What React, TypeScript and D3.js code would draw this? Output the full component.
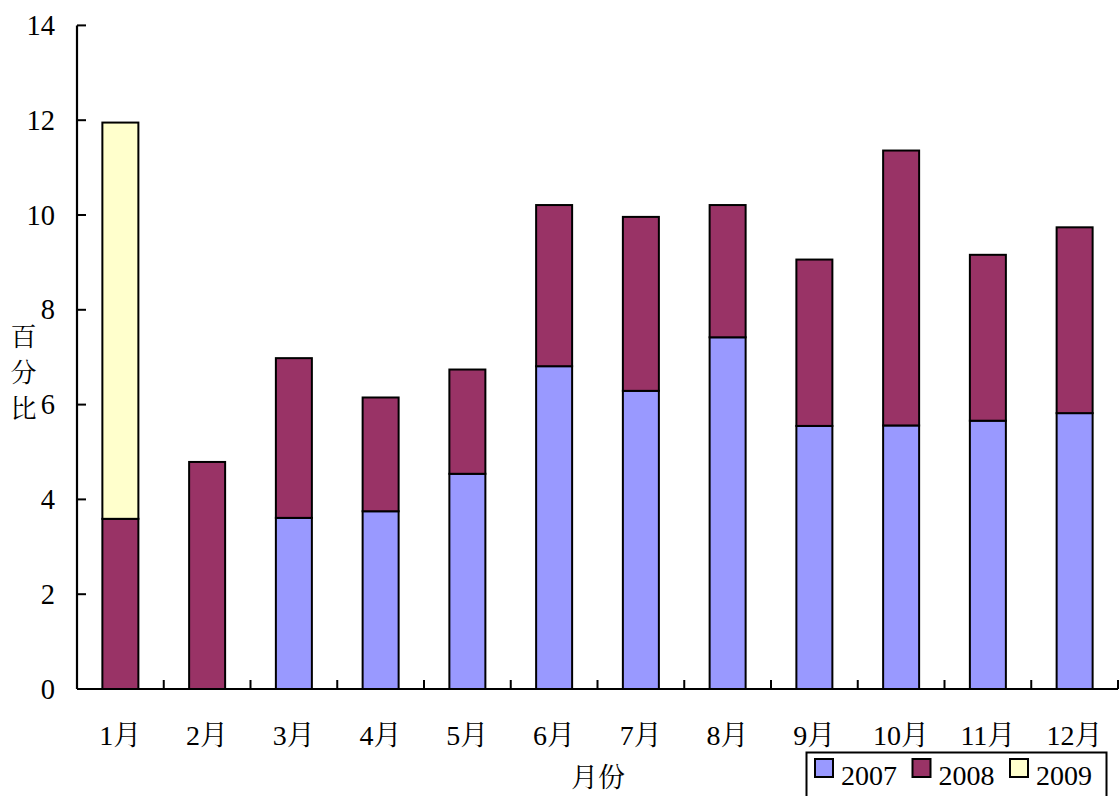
import React from "react";
import * as d3 from "d3";

const months = ["1月", "2月", "3月", "4月", "5月", "6月", "7月", "8月", "9月", "10月", "11月", "12月"];
const seriesNames = ["2007", "2008", "2009"];
const v2007 = [0, 0, 3.61, 3.75, 4.54, 6.81, 6.29, 7.42, 5.55, 5.56, 5.66, 5.82];
const v2008 = [3.59, 4.79, 3.37, 2.4, 2.2, 3.4, 3.67, 2.79, 3.51, 5.8, 3.5, 3.92];
const v2009 = [8.36, 0, 0, 0, 0, 0, 0, 0, 0, 0, 0, 0];
const yTicks = [0, 2, 4, 6, 8, 10, 12, 14];
const yTitle = ["百", "分", "比"];
const xTitle = "月份";
const colors = ["#9999FF", "#993366", "#FFFFCC"];

const W = 1120;
const H = 796;
const left = 77;
const right = 1118;
const top = 25.4;
const bottom = 689;
const FONT = '"Liberation Serif", "Noto Serif CJK SC", "Noto Sans CJK SC", serif';

export default function App() {
  const rows = months.map((m, i) => ({ month: m, "2007": v2007[i], "2008": v2008[i], "2009": v2009[i] }));
  const stack = d3.stack<any>().keys(seriesNames);
  const layers = stack(rows);
  const p = 1 - 36 / ((right - left) / months.length);
  const x = d3.scaleBand().domain(months).range([left, right]).paddingInner(p).paddingOuter(p / 2);
  const y = d3.scaleLinear().domain([0, 14]).range([bottom, top]);
  const step = x.step();

  return (
    <svg width={W} height={H} style={{ position: "absolute", left: 0, top: 0, background: "#fff", fontFamily: FONT }}>
      {layers.map((layer, li) =>
        layer.map((d, i) => {
          const h = y(d[0]) - y(d[1]);
          if (h <= 0.01) return null;
          return (
            <rect
              key={`${li}-${i}`}
              x={x(months[i])}
              y={y(d[1])}
              width={x.bandwidth()}
              height={h}
              fill={colors[li]}
              stroke="#000"
              strokeWidth={2}
            />
          );
        })
      )}
      {/* Y axis */}
      <line x1={left} x2={left} y1={top} y2={bottom} stroke="#000" strokeWidth={2.2} />
      {yTicks.map((t) => (
        <g key={t}>
          <line x1={left} x2={left + 9} y1={y(t)} y2={y(t)} stroke="#000" strokeWidth={2} />
          <text x={55} y={y(t)} dy="0.34em" textAnchor="end" fontSize={28.5}>
            {t}
          </text>
        </g>
      ))}
      {/* X axis */}
      <line x1={left} x2={right} y1={bottom} y2={bottom} stroke="#000" strokeWidth={2.2} />
      {months.map((m, i) => (
        <g key={m}>
          <line x1={left + step * (i + 1)} x2={left + step * (i + 1)} y1={bottom} y2={bottom - 9} stroke="#000" strokeWidth={2} />
          <text x={(x(m) as number) + x.bandwidth() / 2} y={745} textAnchor="middle" fontSize={28}>
            {m}
          </text>
        </g>
      ))}
      <text x={598} y={787} textAnchor="middle" fontSize={27}>{xTitle}</text>
      {yTitle.map((c, i) => (
        <text key={c} x={23.5} y={346 + i * 36} textAnchor="middle" fontSize={26}>
          {c}
        </text>
      ))}
      {/* Legend */}
      <rect x={806.5} y={752.5} width={300} height={60} fill="#fff" stroke="#000" strokeWidth={2} />
      {seriesNames.map((s, i) => (
        <g key={s} transform={`translate(${815 + i * 97.5},759)`}>
          <rect x={0} y={0} width={18} height={18} fill={colors[i]} stroke="#000" strokeWidth={2} />
          <text x={26} y={26} fontSize={28}>{s}</text>
        </g>
      ))}
    </svg>
  );
}
